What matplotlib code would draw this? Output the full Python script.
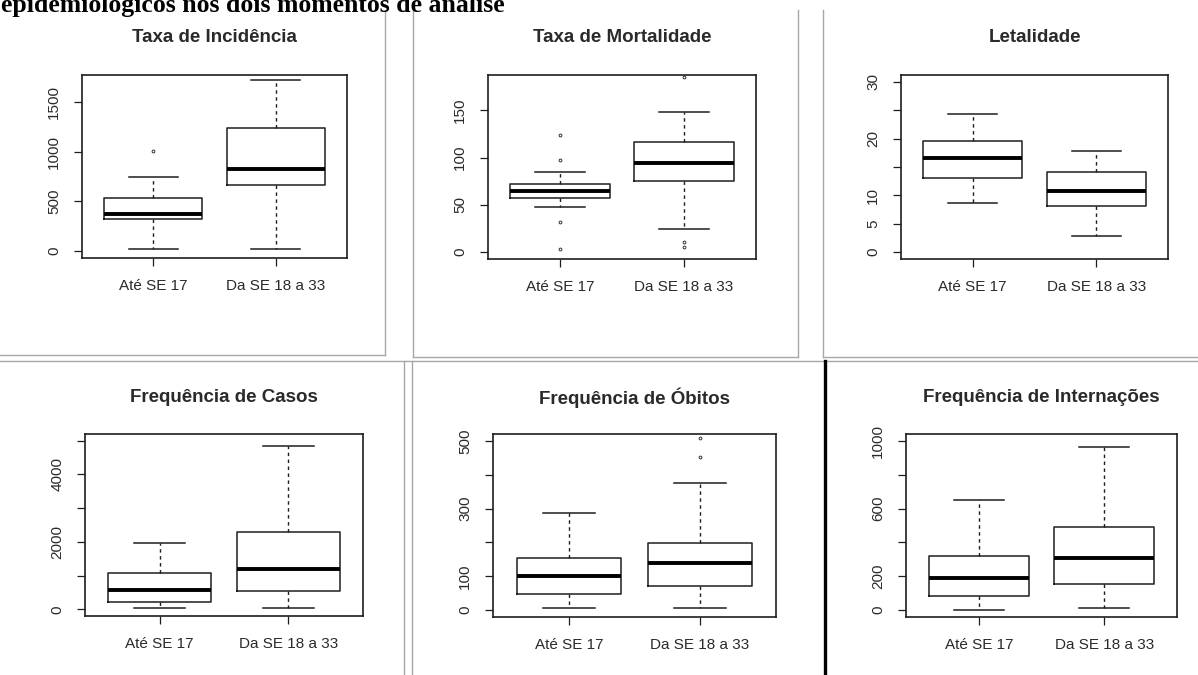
import matplotlib
matplotlib.use("Agg")
import matplotlib.pyplot as plt
from matplotlib.lines import Line2D

# ---------------- data ----------------
groups = ["Até SE 17", "Da SE 18 a 33"]
header = "epidemiológicos nos dois momentos de análise"

titles = ["Taxa de Incidência", "Taxa de Mortalidade", "Letalidade",
          "Frequência de Casos", "Frequência de Óbitos", "Frequência de Internações"]

incid_lo = [20, 20];      incid_q1 = [324, 659];   incid_med = [372, 828]
incid_q3 = [537, 1233];   incid_hi = [742, 1722];  incid_out = [[1006], []]

mort_lo = [48, 25];       mort_q1 = [57, 75.5];    mort_med = [65, 94]
mort_q3 = [72, 116];      mort_hi = [85, 148];     mort_out = [[97, 124, 32, 3], [6, 10.5, 185]]

letal_lo = [8.6, 2.9];    letal_q1 = [13.0, 8.15]; letal_med = [16.5, 10.8]
letal_q3 = [19.5, 14.2];  letal_hi = [24.3, 17.8]; letal_out = [[], []]

casos_lo = [48, 48];      casos_q1 = [228, 548];   casos_med = [557, 1207]
casos_q3 = [1078, 2305];  casos_hi = [1976, 4840]; casos_out = [[], []]

obit_lo = [7, 7];         obit_q1 = [47.8, 72.5];  obit_med = [102, 139]
obit_q3 = [154, 199];     obit_hi = [286, 376];    obit_out = [[], [453, 508]]

intern_lo = [0, 14];      intern_q1 = [83.6, 153]; intern_med = [189, 310]
intern_q3 = [318, 494];   intern_hi = [653, 965];  intern_out = [[], []]

yticks_list = [[0, 500, 1000, 1500], [0, 50, 100, 150], [0, 5, 10, 15, 20, 25, 30],
               [0, 1000, 2000, 3000, 4000, 5000], [0, 100, 200, 300, 400, 500],
               [0, 200, 400, 600, 800, 1000]]
ylabels_list = [["0", "500", "1000", "1500"], ["0", "50", "100", "150"],
                ["0", "5", "10", "", "20", "", "30"],
                ["0", "", "2000", "", "4000", ""], ["0", "100", "", "300", "", "500"],
                ["0", "200", "", "600", "", "1000"]]

series = [
    (incid_lo, incid_q1, incid_med, incid_q3, incid_hi, incid_out),
    (mort_lo, mort_q1, mort_med, mort_q3, mort_hi, mort_out),
    (letal_lo, letal_q1, letal_med, letal_q3, letal_hi, letal_out),
    (casos_lo, casos_q1, casos_med, casos_q3, casos_hi, casos_out),
    (obit_lo, obit_q1, obit_med, obit_q3, obit_hi, obit_out),
    (intern_lo, intern_q1, intern_med, intern_q3, intern_hi, intern_out),
]

# ---------------- layout (pixels) ----------------
W, H = 1198, 675
ylims = [(-70, 1770), (-7.2, 187.2), (-1.2, 31.2), (-200, 5200), (-20, 520), (-40, 1040)]
rects = [(82, 75, 347, 258), (488, 75, 756, 259), (901, 75, 1168, 259),
         (85, 434, 363, 616), (493, 434, 776, 617), (906, 434, 1177, 617)]
title_y = [37, 37, 37, 398, 398, 398]

plt.rcParams["font.family"] = ["Liberation Sans", "DejaVu Sans"]
ink = "#1e1e1e"
txt = "#2a2a2a"

fig = plt.figure(figsize=(W / 100, H / 100), dpi=100)
fig.patch.set_facecolor("white")

for i, (lo, q1, med, q3, hi, out) in enumerate(series):
    l, t, r, b = rects[i]
    ax = fig.add_axes([l / W, 1 - b / H, (r - l) / W, (b - t) / H])
    stats = []
    for g in range(2):
        stats.append(dict(whislo=lo[g], q1=q1[g], med=med[g], q3=q3[g],
                          whishi=hi[g], fliers=out[g], label=groups[g]))
    ax.bxp(stats, positions=[1, 2], widths=0.8, capwidths=0.4,
           boxprops=dict(color=ink, linewidth=1.1),
           medianprops=dict(color="black", linewidth=2.8, solid_capstyle="butt"),
           whiskerprops=dict(color=ink, linewidth=1.0, linestyle=(0, (2.5, 2.5))),
           capprops=dict(color=ink, linewidth=1.1),
           flierprops=dict(marker="o", markersize=2.0, markerfacecolor="none",
                           markeredgecolor="#333333", markeredgewidth=0.7),
           manage_ticks=False)
    ax.set_xlim(0.42, 2.58)
    ax.set_ylim(*ylims[i])
    ax.set_xticks([1, 2])
    ax.set_xticklabels(groups, fontsize=11, color=txt)
    ax.set_yticks(yticks_list[i])
    ax.set_yticklabels(ylabels_list[i], fontsize=11, color=txt, rotation=90, va="center")
    ax.tick_params(axis="both", length=6, width=0.9, color=ink)
    ax.tick_params(axis="x", pad=9)
    ax.tick_params(axis="y", pad=9)
    for s in ax.spines.values():
        s.set_linewidth(1.2)
        s.set_color(ink)
    fig.text(((l + r) / 2) / W, 1 - title_y[i] / H, titles[i], fontsize=13.5,
             fontweight="bold", color=txt, ha="center", va="center")

# header text (continuation line of the document caption, cropped at the top)
fig.text(1 / W, 1 - 12 / H, header, fontsize=18.5, fontweight="bold",
         family=["Liberation Serif", "DejaVu Serif"], color="black",
         ha="left", va="baseline")

# document frame lines
def hline(y, x0, x1, color="#a8a8a8", lw=1.0):
    fig.add_artist(Line2D([x0 / W, x1 / W], [1 - y / H, 1 - y / H],
                          transform=fig.transFigure, color=color, lw=lw))

def vline(x, y0, y1, color="#a8a8a8", lw=1.0):
    fig.add_artist(Line2D([x / W, x / W], [1 - y0 / H, 1 - y1 / H],
                          transform=fig.transFigure, color=color, lw=lw))

hline(355, 0, 385)
hline(357, 413, 798)
hline(357, 823, W)
hline(361, 0, W)
vline(385, 10, 355)
vline(413, 10, 357)
vline(798, 10, 357)
vline(823, 10, 357)
vline(404, 361, H)
vline(412, 361, H)
vline(825, 361, H, color="black", lw=2.4)

fig.savefig("out.png", dpi=100, facecolor="white")
